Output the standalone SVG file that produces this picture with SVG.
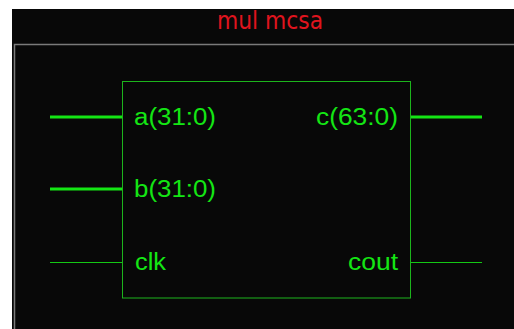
<svg xmlns="http://www.w3.org/2000/svg" width="514" height="329" viewBox="0 0 514 329">
<style>
.lbl{font-family:"Liberation Sans",Arial,sans-serif;font-size:23.5px;fill:#14e614}
.bus{stroke:#14e614;stroke-width:3;fill:none}
.wire{stroke:#14c814;stroke-width:1;fill:none}
</style>
<rect x="0" y="0" width="514" height="329" fill="#ffffff"/>
<rect x="12" y="9" width="502" height="320" fill="#080808"/>
<path d="M14.5 329V44.5H514" fill="none" stroke="#7a7a7a" stroke-width="1.5"/>
<text x="270" y="28.5" text-anchor="middle" font-family="DejaVu Sans,Verdana,sans-serif" font-size="24" fill="#e0141e" textLength="106" lengthAdjust="spacingAndGlyphs">mul mcsa</text>
<g id="mul_mcsa">
<rect x="122.5" y="81.5" width="288" height="216.5" fill="none" stroke="#1cb41c" stroke-width="1"/>
<text class="lbl" x="134" y="125" textLength="82" lengthAdjust="spacingAndGlyphs">a(31:0)</text>
<text class="lbl" x="134" y="197" textLength="82" lengthAdjust="spacingAndGlyphs">b(31:0)</text>
<text class="lbl" x="135" y="270" textLength="31" lengthAdjust="spacingAndGlyphs">clk</text>
<text class="lbl" x="316" y="125" textLength="82" lengthAdjust="spacingAndGlyphs">c(63:0)</text>
<text class="lbl" x="348" y="270" textLength="50" lengthAdjust="spacingAndGlyphs">cout</text>
</g>
<g id="connectors">
<path class="bus" d="M50 117H122"/>
<path class="bus" d="M50 189H122"/>
<path class="wire" d="M50 262.5H122"/>
<path class="bus" d="M411 117H482"/>
<path class="wire" d="M411 262.5H482"/>
</g>
</svg>
